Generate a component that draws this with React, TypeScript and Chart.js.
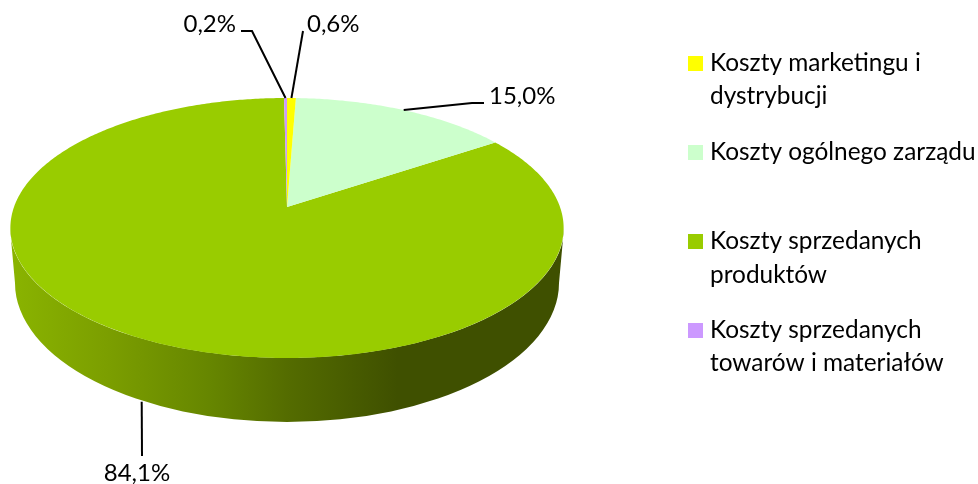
import React, { useEffect, useRef } from "react";
import { Chart, registerables } from "chart.js";

Chart.register(...registerables);

const categories: string[][] = [
  ["Koszty marketingu i", "dystrybucji"],
  ["Koszty ogólnego zarządu"],
  ["Koszty sprzedanych", "produktów"],
  ["Koszty sprzedanych", "towarów i materiałów"],
];
const shares = [0.6, 15.0, 84.1, 0.2];
const shareLabels = ["0,6%", "15,0%", "84,1%", "0,2%"];
const colors = ["#FFFF00", "#CCFFCC", "#99CC00", "#CC99FF"];

const FONT = "24px Lato, Carlito, sans-serif";
const LEGEND_FONT = "24.4px Lato, Carlito, sans-serif";
const CX = 287;
const APEX_Y = 207;
const PX = 273;
const PA = 93.2;
const PC = -0.1615;
const WALL = 64;

const legendLayout = [
  { box: 56, lines: [71, 104] },
  { box: 145, lines: [160] },
  { box: 234, lines: [249, 283] },
  { box: 323, lines: [338, 371] },
];
// For each slice: elbow/end points of the leader line, and the text anchor.
const leaderLayout = [
  { pts: [[303, 31]], text: [307, 32], align: "left", drop: 0, dx: 0 },
  { pts: [[472, 103], [484, 103]], text: [489, 104], align: "left", drop: 0, dx: 0 },
  { pts: [[142, 456]], text: [137, 481], align: "center", drop: WALL, dx: 3 },
  { pts: [[252, 31], [241, 31]], text: [236, 32], align: "right", drop: 0, dx: 0 },
];

// Perspective projection of the unit disc on to the tilted pie top.
const project = (angle: number) => {
  const u = Math.cos(angle);
  const v = Math.sin(angle);
  const d = PC * v + 1;
  return { x: CX + (PX * u) / d, y: (PA * v + APEX_Y) / d };
};

const pie3dPlugin = {
  id: "pie3d",
  beforeDatasetsDraw(chart: any) {
    const ctx: CanvasRenderingContext2D = chart.ctx;
    // side wall of the big slice
    const grad = ctx.createLinearGradient(10, 0, 564, 0);
    grad.addColorStop(0, "#8AB400");
    grad.addColorStop(0.17, "#7C9F00");
    grad.addColorStop(0.36, "#668600");
    grad.addColorStop(0.5, "#546C00");
    grad.addColorStop(0.7, "#3F5000");
    grad.addColorStop(1, "#3F5000");
    ctx.save();
    ctx.beginPath();
    ctx.ellipse(CX, 228, 277, 130, 0, 0, Math.PI);
    ctx.ellipse(CX, 283, 272, 139, 0, Math.PI, 0, true);
    ctx.closePath();
    ctx.fillStyle = grad;
    ctx.fill();
    ctx.restore();
    // top faces, taken from the arc elements' angles; largest first
    const arcs = chart.getDatasetMeta(0).data.map((a: any, i: number) => ({ a, i }));
    arcs.sort((p: any, q: any) => q.a.circumference - p.a.circumference);
    arcs.forEach(({ a, i }: any) => {
      const steps = Math.max(2, Math.ceil((a.endAngle - a.startAngle) * 90));
      ctx.beginPath();
      ctx.moveTo(CX, APEX_Y);
      for (let s = 0; s <= steps; s++) {
        const p = project(a.startAngle + ((a.endAngle - a.startAngle) * s) / steps);
        ctx.lineTo(p.x, p.y);
      }
      ctx.closePath();
      ctx.fillStyle = colors[i];
      ctx.fill();
    });
  },
  beforeDatasetDraw() {
    return false;
  },
  afterDraw(chart: any) {
    const ctx: CanvasRenderingContext2D = chart.ctx;
    ctx.save();
    ctx.font = FONT;
    ctx.textBaseline = "alphabetic";
    // leader lines and value labels
    chart.getDatasetMeta(0).data.forEach((a: any, i: number) => {
      const l = leaderLayout[i];
      const rim = project((a.startAngle + a.endAngle) / 2);
      ctx.beginPath();
      ctx.moveTo(rim.x + l.dx, rim.y + l.drop);
      l.pts.forEach((p) => ctx.lineTo(p[0], p[1]));
      ctx.strokeStyle = "#000";
      ctx.lineWidth = 2;
      ctx.stroke();
      ctx.fillStyle = "#000";
      ctx.textAlign = l.align as CanvasTextAlign;
      ctx.fillText(shareLabels[i], l.text[0], l.text[1]);
    });
    // legend
    ctx.font = LEGEND_FONT;
    ctx.textAlign = "left";
    categories.forEach((lines, i) => {
      const l = legendLayout[i];
      ctx.fillStyle = colors[i];
      ctx.fillRect(688, l.box, 15, 15);
      ctx.fillStyle = "#000";
      lines.forEach((t, k) => ctx.fillText(t, 710, l.lines[k]));
    });
    ctx.restore();
  },
};

export default function App() {
  const ref = useRef<HTMLCanvasElement>(null);
  useEffect(() => {
    document.body.style.margin = "0";
    document.body.style.background = "#fff";
    const chart = new Chart(ref.current!, {
      type: "pie",
      data: {
        labels: categories.map((c) => c.join(" ")),
        datasets: [{ data: shares, backgroundColor: colors, borderWidth: 0 }],
      },
      options: {
        responsive: false,
        animation: false,
        plugins: { legend: { display: false }, tooltip: { enabled: false } },
      },
      plugins: [pie3dPlugin],
    } as any);
    return () => chart.destroy();
  }, []);
  return <canvas ref={ref} width={978} height={484} style={{ display: "block" }} />;
}
